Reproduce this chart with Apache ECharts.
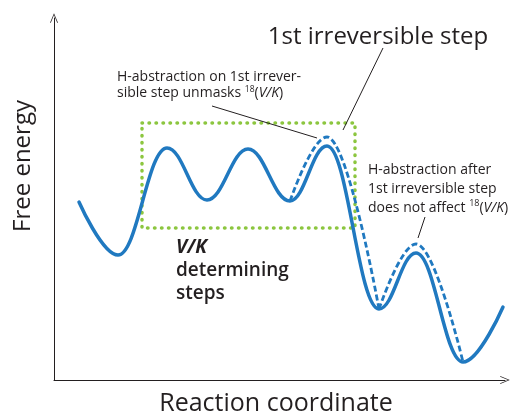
<!DOCTYPE html>
<html>
<head>
<meta charset="utf-8">
<script src="https://cdn.jsdelivr.net/npm/echarts@6/dist/echarts.min.js"></script>
<style>
  html, body { margin: 0; padding: 0; background: #fff; }
  #chart { width: 511px; height: 416px; }
</style>
</head>
<body>
<div id="chart"></div>
<script>
// reaction coordinate (x) and free energy (y) at the turning points
const pathX = [79, 118, 167, 207, 248, 290, 327, 379, 416, 463, 503];
const pathY = [178, 125, 232, 180, 231, 179, 234, 71, 127, 18, 73];

// raised barrier when H-abstraction sits on the 1st irreversible step
const alt1X = [290, 327, 379];
const alt1Y = [179, 243, 71];

// raised barrier when H-abstraction comes after it
const alt2X = [379, 416, 463];
const alt2Y = [71, 136, 18];

// V/K determining box
const boxX = [142, 355, 355, 142, 142];
const boxY = [257, 257, 152, 152, 257];

// leader lines for the labels
const leaders = [
  [[383, 332], [343, 250]],
  [[212, 274], [317, 242]],
  [[425, 163], [418, 142]]
];

const zip = (xs, ys) => xs.map((x, i) => [x, ys[i]]);

const ink = "#231f20";
const blue = "#2079c0";
const green = "#8cc63f";
const font = "'Open Sans', 'Noto Sans', sans-serif";
const chevron = "path://M0,12 L5,0 L10,12 L9,12 L5,2.2 L1,12 Z";

const chart = echarts.init(document.getElementById("chart"));

chart.setOption({
  animation: false,
  grid: { left: 54, right: 6, top: 18, bottom: 36 },
  xAxis: {
    type: "value", min: 54, max: 505,
    splitLine: { show: false }, axisTick: { show: false }, axisLabel: { show: false },
    axisLine: { lineStyle: { color: ink, width: 1 }, symbol: ["none", chevron], symbolSize: [8, 11] }
  },
  yAxis: {
    type: "value", min: 0, max: 362,
    splitLine: { show: false }, axisTick: { show: false }, axisLabel: { show: false },
    axisLine: { lineStyle: { color: ink, width: 1 }, symbol: ["none", chevron], symbolSize: [8, 11] }
  },
  series: [
    {
      type: "line", data: zip(boxX, boxY), showSymbol: false, silent: true,
      lineStyle: { color: green, width: 3.5, type: [0.5, 6.5], cap: "round" }
    },
    {
      type: "line", data: zip(alt1X, alt1Y), smooth: 0.4, smoothMonotone: "x", showSymbol: false, silent: true,
      lineStyle: { color: blue, width: 2.8, type: [6, 3] }
    },
    {
      type: "line", data: zip(alt2X, alt2Y), smooth: 0.4, smoothMonotone: "x", showSymbol: false, silent: true,
      lineStyle: { color: blue, width: 2.8, type: [6, 3] }
    },
    {
      type: "line", data: zip(pathX, pathY), smooth: 0.4, smoothMonotone: "x", showSymbol: false, silent: true,
      lineStyle: { color: blue, width: 3.5, cap: "round" }
    },
    ...leaders.map(seg => ({
      type: "line", data: seg, showSymbol: false, silent: true,
      lineStyle: { color: ink, width: 1 }
    }))
  ],
  graphic: [
    {
      type: "text", x: 378, y: 37,
      style: { text: "1st irreversible step", font: "24px " + font, fill: ink, align: "center", verticalAlign: "middle" }
    },
    {
      type: "text", x: 117, y: 69,
      style: {
        text: "H-abstraction on 1st irrever-\nsible step unmasks {sup|18}({i|V/K})",
        font: "14px " + font, fill: ink, lineHeight: 16,
        rich: {
          sup: { fontSize: 8.5, fontFamily: font, fill: ink, verticalAlign: "top", lineHeight: 16 },
          i: { fontSize: 14, fontFamily: font, fontStyle: "italic", fill: ink, lineHeight: 16 }
        }
      }
    },
    {
      type: "text", x: 368, y: 161,
      style: {
        text: "H-abstraction after\n1st irreversible step\ndoes not affect {sup|18}({i|V/K})",
        font: "14px " + font, fill: ink, lineHeight: 19,
        rich: {
          sup: { fontSize: 9, fontFamily: font, fill: ink, verticalAlign: "top", lineHeight: 19 },
          i: { fontSize: 14, fontFamily: font, fontStyle: "italic", fill: ink, lineHeight: 19 }
        }
      }
    },
    {
      type: "text", x: 176, y: 236,
      style: {
        text: "{b|V/K}\ndetermining\nsteps",
        font: "600 19px " + font, fill: ink, lineHeight: 23,
        rich: {
          b: { fontSize: 19, fontFamily: font, fontStyle: "italic", fontWeight: "bold", fill: ink, lineHeight: 23 }
        }
      }
    },
    {
      type: "text", x: 276, y: 404,
      style: { text: "Reaction coordinate", font: "500 25px " + font, fill: ink, align: "center", verticalAlign: "middle" }
    },
    {
      type: "text", x: 23, y: 166, rotation: Math.PI / 2,
      style: { text: "Free energy", font: "500 24px " + font, fill: ink, align: "center", verticalAlign: "middle" }
    }
  ]
});
</script>
</body>
</html>
